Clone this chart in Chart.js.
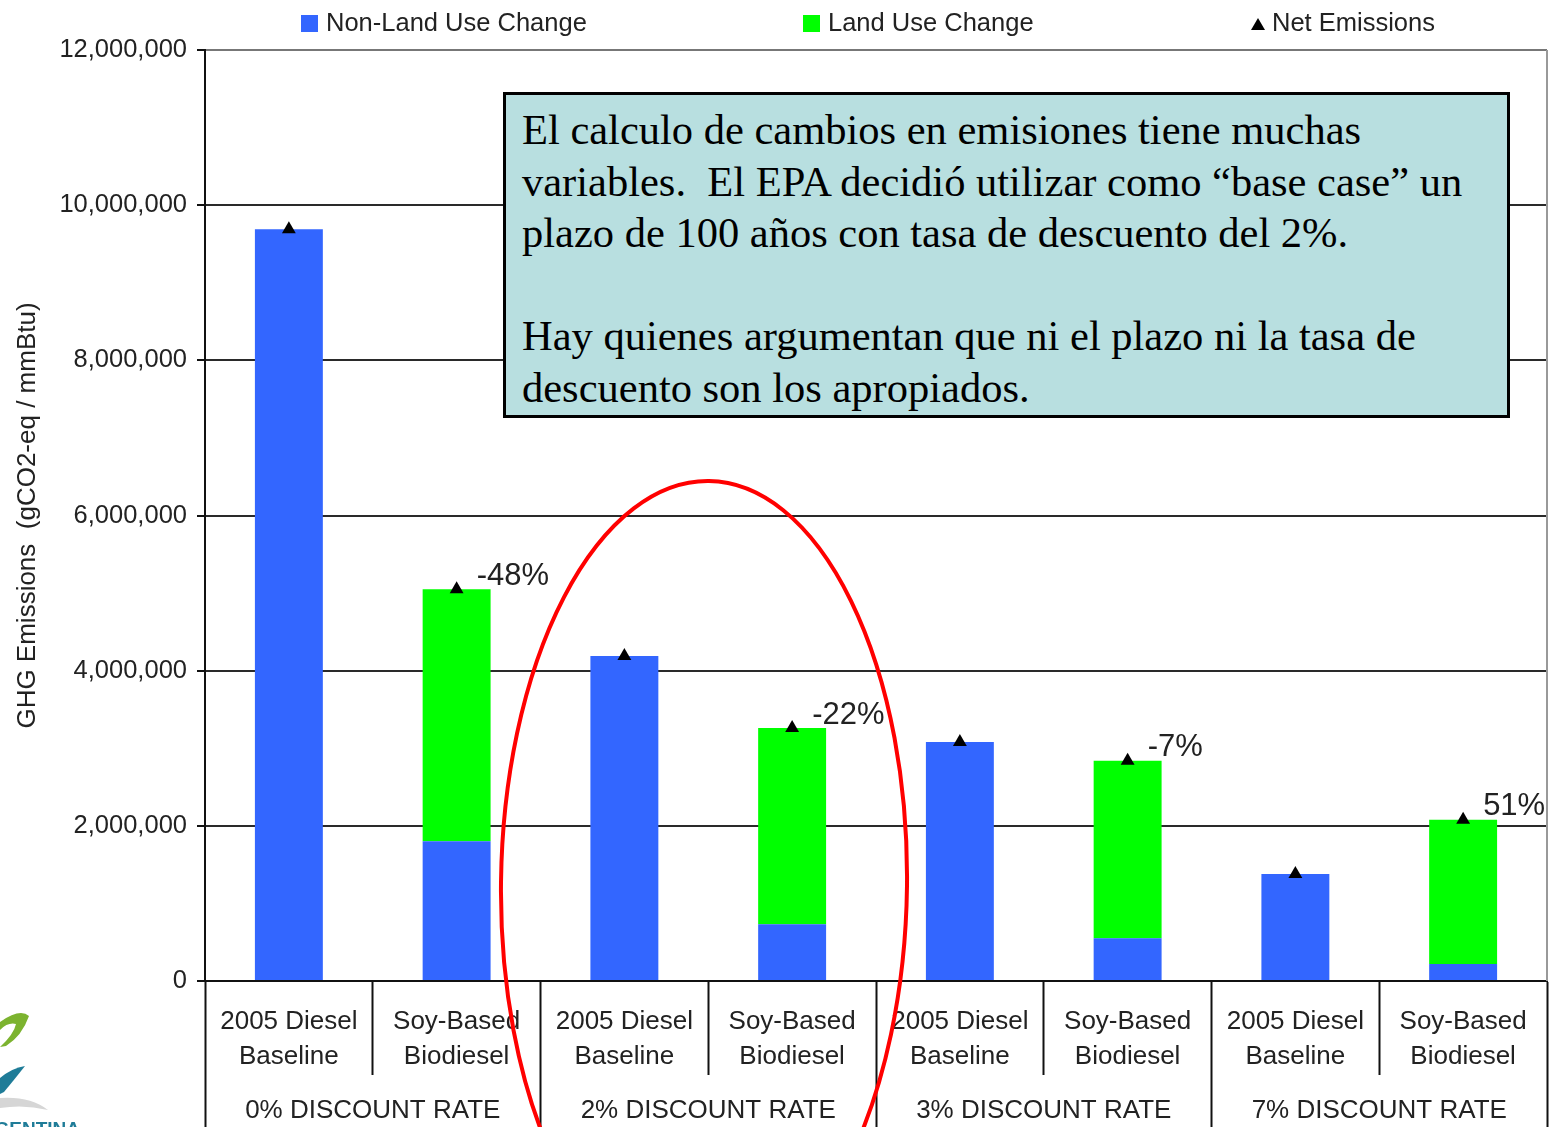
<!DOCTYPE html>
<html>
<head>
<meta charset="utf-8">
<title>GHG Emissions</title>
<script src="https://cdn.jsdelivr.net/npm/chart.js@4.4.0/dist/chart.umd.min.js"></script>
<style>
body { margin: 0; background: #fff; }
#wrap { position: relative; width: 1555px; height: 1127px; overflow: hidden; }
#myChart { position: absolute; left: 0; top: 0; }
.lg { position: absolute; top: 8px; height: 28px; line-height: 28px; font: 25.5px "Liberation Sans", Arial, sans-serif; color: #222; white-space: nowrap; }
.lg i { display: inline-block; width: 17px; height: 17px; margin-right: 8px; vertical-align: -1px; }
.lg i.tri { width: 0; height: 0; border-left: 7px solid transparent; border-right: 7px solid transparent; border-bottom: 12px solid #000; margin-right: 7px; vertical-align: 1px; }
#note { position: absolute; left: 503px; top: 92px; width: 1007px; height: 326px; border: 3px solid #000;
  background: #b8dfe0; font: 42.5px "Liberation Serif", "Times New Roman", serif; line-height: 51.5px;
  color: #000; white-space: pre; padding: 9px 0 0 16px; box-sizing: border-box; }
</style>
</head>
<body>
<div id="wrap">
  <canvas id="myChart" width="1555" height="1127"></canvas>
  <div id="legend"></div>
  <div id="note">El calculo de cambios en emisiones tiene muchas
variables.  El EPA decidió utilizar como “base case” un
plazo de 100 años con tasa de descuento del 2%.

Hay quienes argumentan que ni el plazo ni la tasa de
descuento son los apropiados.</div>
</div>
<script>
// values (gCO2-eq / mmBtu)
var categories = [["2005 Diesel", "Baseline"], ["Soy-Based", "Biodiesel"],
                  ["2005 Diesel", "Baseline"], ["Soy-Based", "Biodiesel"],
                  ["2005 Diesel", "Baseline"], ["Soy-Based", "Biodiesel"],
                  ["2005 Diesel", "Baseline"], ["Soy-Based", "Biodiesel"]];
var groups = ["0% DISCOUNT RATE", "2% DISCOUNT RATE", "3% DISCOUNT RATE", "7% DISCOUNT RATE"];
var nonLandUse = [9690000, 1800000, 4190000, 730000, 3080000, 550000, 1380000, 220000];
var landUse = [0, 3250000, 0, 2530000, 0, 2290000, 0, 1860000];
var netEmissions = [9690000, 5050000, 4190000, 3260000, 3080000, 2840000, 1380000, 2080000];
var pctChange = ["", "-48%", "", "-22%", "", "-7%", "", "51%"];
var seriesNames = ["Non-Land Use Change", "Land Use Change", "Net Emissions"];
var yMax = 12000000;
var yStep = 2000000;

Chart.defaults.font.family = '"Liberation Sans", Arial, sans-serif';
Chart.defaults.color = '#222';

// legend (html, spaced out like the original)
var legendX = [301, 803, 1251];
var legendMark = ['<i style="background:#3366ff"></i>', '<i style="background:#00ff00"></i>', '<i class="tri"></i>'];
var lg = document.getElementById('legend');
for (var i = 0; i < seriesNames.length; i++) {
    var d = document.createElement('div');
    d.className = 'lg';
    d.style.left = legendX[i] + 'px';
    d.innerHTML = legendMark[i] + seriesNames[i];
    lg.appendChild(d);
}

var pctLabels = {
    id: 'pctLabels',
    afterDatasetsDraw: function(chart) {
        var meta = chart.getDatasetMeta(0);
        var ctx = chart.ctx;
        ctx.save();
        ctx.font = '31px "Liberation Sans", Arial';
        ctx.fillStyle = '#222';
        ctx.textBaseline = 'middle';
        meta.data.forEach(function(pt, i) {
            if (pctChange[i]) ctx.fillText(pctChange[i], pt.x + 20, pt.y - 13);
        });
        ctx.restore();
    }
};

var extras = {
    id: 'extras',
    afterDraw: function(chart) {
        var ctx = chart.ctx;
        var a = chart.chartArea;
        ctx.save();
        // right border of the plot
        ctx.strokeStyle = '#999';
        ctx.lineWidth = 2;
        ctx.beginPath();
        ctx.moveTo(a.right, a.top);
        ctx.lineTo(a.right, a.bottom);
        ctx.stroke();
        // red ellipse round the 2% group
        ctx.strokeStyle = '#ff0000';
        ctx.lineWidth = 4;
        ctx.beginPath();
        ctx.ellipse(704, 884, 203, 403, 0.012, 0, Math.PI * 2);
        ctx.stroke();
        // bits of the logo, bottom left
        ctx.fillStyle = '#7cb32f';
        ctx.beginPath();
        ctx.moveTo(0, 1022);
        ctx.quadraticCurveTo(20, 1008, 29, 1016);
        ctx.quadraticCurveTo(22, 1036, 6, 1046);
        ctx.lineTo(0, 1047);
        ctx.quadraticCurveTo(14, 1034, 16, 1024);
        ctx.quadraticCurveTo(8, 1022, 0, 1030);
        ctx.fill();
        ctx.fillStyle = '#1f7c98';
        ctx.beginPath();
        ctx.moveTo(0, 1078);
        ctx.quadraticCurveTo(12, 1068, 25, 1066);
        ctx.quadraticCurveTo(14, 1080, 4, 1092);
        ctx.lineTo(0, 1094);
        ctx.fill();
        ctx.fillStyle = '#d6d6d6';
        ctx.beginPath();
        ctx.moveTo(0, 1098);
        ctx.quadraticCurveTo(30, 1096, 48, 1110);
        ctx.quadraticCurveTo(24, 1104, 0, 1108);
        ctx.fill();
        ctx.fillStyle = '#1f7c98';
        ctx.font = 'bold 19px "Liberation Sans", Arial';
        ctx.textAlign = 'right';
        ctx.textBaseline = 'alphabetic';
        ctx.fillText('ARGENTINA', 80, 1135);
        ctx.restore();
    }
};

var ctx = document.getElementById('myChart');
var myChart = new Chart(ctx, {
    type: 'bar',
    data: {
        labels: categories,
        datasets: [{
            type: 'line',
            label: seriesNames[2],
            data: netEmissions,
            showLine: false,
            pointStyle: 'triangle',
            pointRadius: 8,
            pointHoverRadius: 8,
            pointBackgroundColor: '#000',
            pointBorderColor: '#000',
            pointBorderWidth: 0,
            stack: 'net',
            order: 0
        }, {
            label: seriesNames[0],
            data: nonLandUse,
            backgroundColor: '#3366ff',
            stack: 'bars',
            order: 1
        }, {
            label: seriesNames[1],
            data: landUse,
            backgroundColor: '#00ff00',
            stack: 'bars',
            order: 1
        }]
    },
    options: {
        responsive: false,
        animation: false,
        barPercentage: 0.405,
        categoryPercentage: 1,
        layout: { padding: { top: 50, right: 7, left: 0, bottom: 0 } },
        plugins: {
            legend: { display: false },
            tooltip: { enabled: false }
        },
        scales: {
            x: {
                stacked: true,
                weight: 0,
                afterFit: function(scale) { scale.height = 94; },
                grid: { offset: true, drawOnChartArea: false, tickLength: 94, tickColor: '#111', tickWidth: 2 },
                border: { display: true, color: '#111', width: 2 },
                ticks: { autoSkip: false, maxRotation: 0, padding: -71, font: { size: 26, lineHeight: 1.35 }, color: '#222' }
            },
            x2: {
                type: 'category',
                labels: groups,
                position: 'bottom',
                offset: true,
                weight: 1,
                afterFit: function(scale) { scale.height = 52; },
                grid: { offset: true, drawOnChartArea: false, tickLength: 52, tickColor: '#111', tickWidth: 2 },
                border: { display: false },
                ticks: { autoSkip: false, maxRotation: 0, padding: -32, font: { size: 26, lineHeight: 1.2 }, color: '#222' }
            },
            y: {
                stacked: true,
                min: 0,
                max: yMax,
                afterFit: function(scale) { scale.width = 205; },
                ticks: {
                    stepSize: yStep,
                    padding: 10,
                    font: { size: 25.5 },
                    color: '#222',
                    callback: function(v) { return v.toLocaleString('en-US'); }
                },
                grid: {
                    color: function(c) { return c.tick && c.tick.value === yMax ? '#777' : '#2a2a2a'; },
                    lineWidth: 2,
                    tickLength: 8,
                    tickColor: '#111'
                },
                border: { display: true, color: '#111', width: 2 },
                title: {
                    display: true,
                    text: 'GHG Emissions  (gCO2-eq / mmBtu)',
                    font: { size: 26 },
                    color: '#222',
                    padding: { top: 12, bottom: 0 }
                }
            }
        }
    },
    plugins: [pctLabels, extras]
});
</script>
</body>
</html>
